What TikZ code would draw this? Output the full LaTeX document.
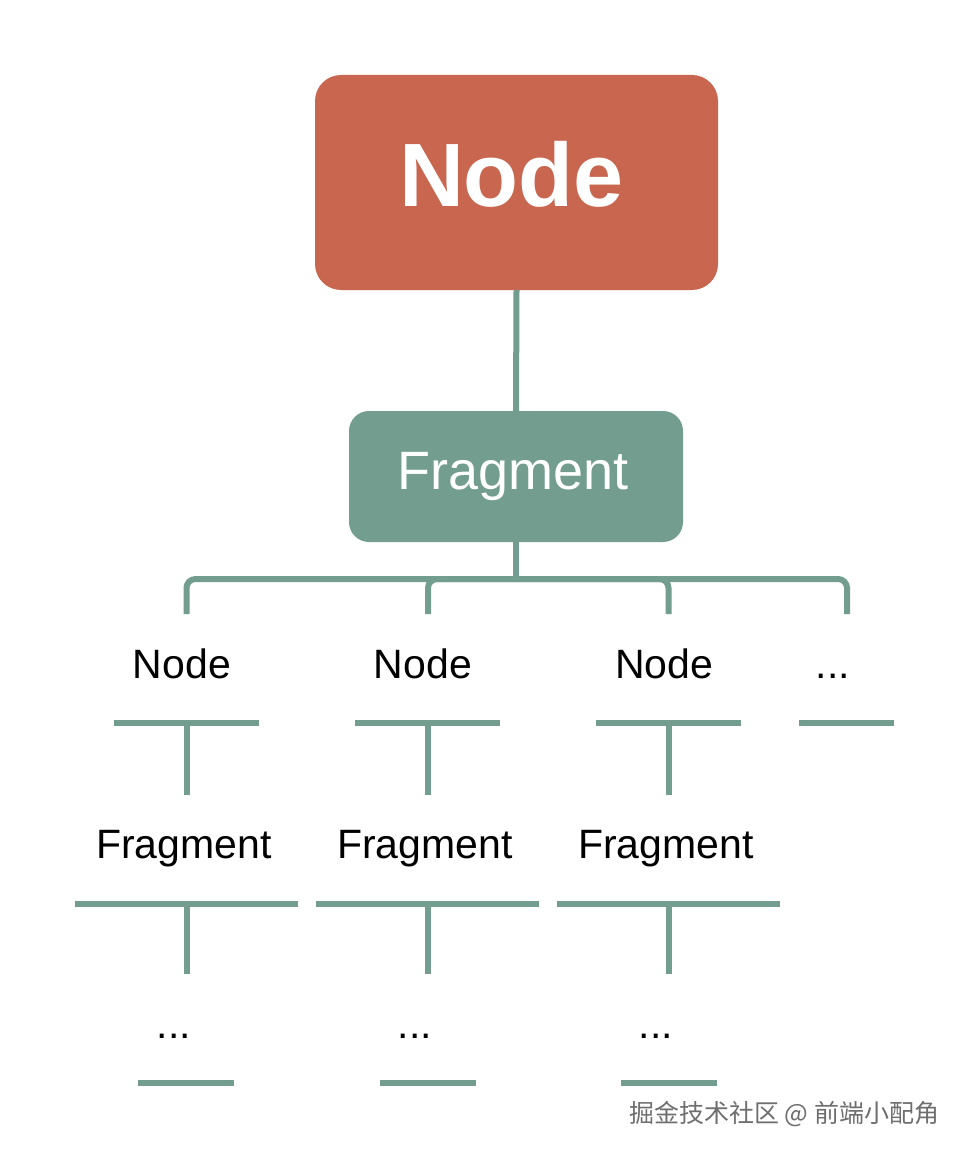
\documentclass[tikz,border=0pt]{standalone}
\usepackage{fontspec}
\setmainfont{Liberation Sans}
\newfontfamily\cjkfont{Noto Sans CJK SC}
\definecolor{boxred}{RGB}{200,102,79}
\definecolor{boxgreen}{RGB}{115,157,142}
\definecolor{wmgray}{RGB}{110,110,110}
\begin{document}
\begin{tikzpicture}[x=1pt,y=-1pt,
  conn/.style={draw=boxgreen,line width=6pt},
  branch/.style={conn,rounded corners=9pt},
  topbox/.style={fill=boxred,rounded corners=26pt,minimum width=403pt,minimum height=215pt,inner sep=0pt},
  fragbox/.style={fill=boxgreen,rounded corners=20pt,minimum width=334pt,minimum height=131pt,inner sep=0pt},
  lbl/.style={anchor=base,inner sep=0pt,font=\fontsize{41pt}{45pt}\selectfont}
]
\useasboundingbox (0,0) rectangle (969,1158);
\fill[white] (0,0) rectangle (969,1158);

% top boxes
\node[topbox] (top) at (516.5,182.5) {};
\node[anchor=base,inner sep=0pt,text=white,font=\fontsize{90pt}{94pt}\selectfont\bfseries] (toplbl) at (511.5,207) {Node};
\node[fragbox] (frag) at (516,476.5) {};
\node[anchor=base,inner sep=0pt,text=white,font=\fontsize{54pt}{58pt}\selectfont] (fraglbl) at (513,489) {Fragment};

% trunk
\coordinate (j) at (516,579);
\draw[conn] (top.south) -- (frag.north);
\draw[conn] (frag.south) -- (j);

% branch ends
\coordinate (b1) at (186.5,614);
\coordinate (b2) at (428,614);
\coordinate (b3) at (668.5,614);
\coordinate (b4) at (847,614);
\draw[branch] (j) -| (b1);
\draw[branch] (j) -| (b2);
\draw[branch] (j) -| (b3);
\draw[branch] (j) -| (b4);

% row 1 labels
\node[lbl] (n1) at (182,678) {Node};
\node[lbl] (n2) at (423,678) {Node};
\node[lbl] (n3) at (664,678) {Node};
\node[lbl] (n4) at (833,678) {...};

% row 1 underlines
\coordinate (u1l) at (114,723); \coordinate (u1r) at (259,723);
\coordinate (u2l) at (355,723); \coordinate (u2r) at (500,723);
\coordinate (u3l) at (596,723); \coordinate (u3r) at (741,723);
\coordinate (u4l) at (799,723); \coordinate (u4r) at (894,723);
\draw[conn] (u1l) -- (u1r);
\draw[conn] (u2l) -- (u2r);
\draw[conn] (u3l) -- (u3r);
\draw[conn] (u4l) -- (u4r);

% row 1 stems
\coordinate (s1a) at (186.5,723); \coordinate (s1b) at (186.5,795);
\coordinate (s2a) at (428,723); \coordinate (s2b) at (428,795);
\coordinate (s3a) at (668.5,723); \coordinate (s3b) at (668.5,795);
\draw[conn] (s1a) -- (s1b);
\draw[conn] (s2a) -- (s2b);
\draw[conn] (s3a) -- (s3b);

% row 2 labels
\node[lbl] (f1) at (184,858) {Fragment};
\node[lbl] (f2) at (425,858) {Fragment};
\node[lbl] (f3) at (666,858) {Fragment};

% row 2 underlines
\coordinate (v1l) at (75,903.5); \coordinate (v1r) at (298,903.5);
\coordinate (v2l) at (316,903.5); \coordinate (v2r) at (539,903.5);
\coordinate (v3l) at (557,903.5); \coordinate (v3r) at (780,903.5);
\draw[conn] (v1l) -- (v1r);
\draw[conn] (v2l) -- (v2r);
\draw[conn] (v3l) -- (v3r);

% row 2 stems
\coordinate (t1a) at (186.5,903.5); \coordinate (t1b) at (186.5,974);
\coordinate (t2a) at (428,903.5); \coordinate (t2b) at (428,974);
\coordinate (t3a) at (668.5,903.5); \coordinate (t3b) at (668.5,974);
\draw[conn] (t1a) -- (t1b);
\draw[conn] (t2a) -- (t2b);
\draw[conn] (t3a) -- (t3b);

% row 3 labels
\node[lbl] (d1) at (174,1038) {...};
\node[lbl] (d2) at (415,1038) {...};
\node[lbl] (d3) at (656,1038) {...};

% row 3 underlines
\coordinate (w1l) at (138,1083); \coordinate (w1r) at (234,1083);
\coordinate (w2l) at (380,1083); \coordinate (w2r) at (476,1083);
\coordinate (w3l) at (621,1083); \coordinate (w3r) at (717,1083);
\draw[conn] (w1l) -- (w1r);
\draw[conn] (w2l) -- (w2r);
\draw[conn] (w3l) -- (w3r);

% watermark
\node[anchor=west,inner sep=0pt,text=wmgray,font=\cjkfont\fontsize{25pt}{27pt}\selectfont] (wm) at (629,1114) {掘金技术社区 @ 前端小配角};
\end{tikzpicture}
\end{document}
